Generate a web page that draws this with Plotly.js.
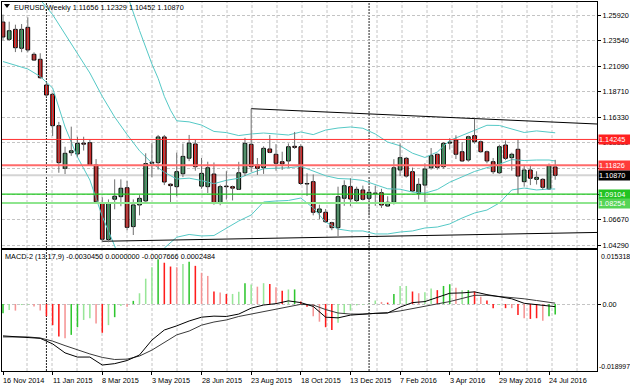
<!DOCTYPE html>
<html><head><meta charset="utf-8">
<script src="https://cdn.plot.ly/plotly-3.0.1.min.js"></script>
<style>html,body{margin:0;padding:0;background:#fff;}#chart{width:630px;height:388px;}</style>
</head><body><div id="chart"></div>
<script>
// ---- weekly EURUSD candles (bar 0 = 16 Nov 2014) ----
const opens = [1.2530,1.2367,1.2461,1.2283,1.2480,1.2226,1.2179,1.1937,1.1850,1.1554,
1.1153,1.1300,1.1288,1.1390,1.1394,1.1184,1.0829,1.0482,1.0862,1.0886,
1.0970,1.0604,1.0808,1.0846,1.1210,1.1206,1.1448,1.1003,1.0980,1.1102,
1.1248,1.1382,1.0985,1.0980,1.1099,1.0829,1.0985,1.0980,1.0955,1.1111,
1.1379,1.1184,1.1159,1.1335,1.1285,1.1215,1.1222,1.1360,1.1356,1.1010,
1.1027,1.0739,1.0739,1.0641,1.0594,1.0871,1.0980,1.0849,1.0949,1.0870,
1.0920,1.0923,1.0798,1.0833,1.1137,1.1247,1.1121,1.0918,1.0995,1.1158,
1.1285,1.1168,1.1390,1.1419,1.1309,1.1231,1.1460,1.1403,1.1309,1.1215,
1.1111,1.1372,1.1253,1.1332,1.1027,1.1137,1.1049,1.1049,1.0958,1.11656];
const highs = [1.2600,1.2533,1.2505,1.2511,1.2574,1.2245,1.2236,1.1968,1.1862,1.1590,
1.1356,1.1545,1.1450,1.1450,1.1420,1.1240,1.0880,1.0860,1.1049,1.1049,
1.1033,1.0860,1.0900,1.1294,1.1390,1.1467,1.1467,1.1012,1.1300,1.1385,
1.1467,1.1420,1.1250,1.1215,1.1208,1.0998,1.1126,1.0990,1.1214,1.1440,
1.1714,1.1250,1.1360,1.1466,1.1380,1.1309,1.1387,1.1495,1.1380,1.1106,
1.1095,1.0810,1.0770,1.0650,1.0980,1.1040,1.1059,1.0980,1.0990,1.0970,
1.0990,1.0960,1.0890,1.1239,1.1388,1.1260,1.1160,1.1060,1.1200,1.1344,
1.1290,1.1400,1.1436,1.1464,1.1400,1.1460,1.1620,1.1415,1.1320,1.1250,
1.1375,1.1415,1.1300,1.1426,1.1186,1.1185,1.1125,1.1060,1.1198,1.12329];
const lows = [1.2358,1.2354,1.2247,1.2246,1.2245,1.2163,1.1996,1.1825,1.1457,1.1111,
1.1099,1.1270,1.1262,1.1320,1.1175,1.0836,1.0463,1.0457,1.0767,1.0796,
1.0570,1.0525,1.0710,1.0820,1.1070,1.1140,1.0995,1.0823,1.0890,1.1070,
1.1220,1.1130,1.0960,1.0920,1.0810,1.0805,1.0858,1.0850,1.0950,1.1080,
1.1120,1.1090,1.1100,1.1295,1.1130,1.1137,1.1160,1.1335,1.0995,1.0892,
1.0710,1.0675,1.0640,1.0570,1.0515,1.0800,1.0796,1.0833,1.0850,1.0710,
1.0800,1.0780,1.0790,1.0811,1.1080,1.1065,1.0930,1.0860,1.0823,1.1140,
1.1140,1.1150,1.1330,1.1240,1.1215,1.1215,1.1385,1.1300,1.1200,1.1100,
1.1100,1.1230,1.1130,1.0911,1.0980,1.0995,1.1000,1.0952,1.0950,1.10452];
const closes = [1.2389,1.2448,1.2288,1.2461,1.2267,1.2172,1.2006,1.1843,1.1554,1.1206,
1.1294,1.1318,1.1388,1.1380,1.1184,1.0838,1.0485,1.0829,1.0890,1.0965,
1.0597,1.0808,1.0870,1.1197,1.1200,1.1448,1.1024,1.0990,1.1121,1.1265,
1.1390,1.1168,1.1105,1.1158,1.0829,1.0980,1.0980,1.0966,1.1111,1.1388,
1.1168,1.1153,1.1341,1.1303,1.1200,1.1195,1.1356,1.1350,1.1010,1.1005,
1.0739,1.0770,1.0650,1.0594,1.0886,1.0989,1.0864,1.0955,1.0861,1.0927,
1.0914,1.0807,1.0833,1.1158,1.1253,1.1080,1.0939,1.1002,1.1146,1.1272,
1.1162,1.1388,1.1400,1.1285,1.1222,1.1450,1.1403,1.1309,1.1222,1.1121,
1.1356,1.1247,1.1285,1.1080,1.1137,1.1059,1.1068,1.0974,1.1177,1.10870];

// ---- Bollinger bands ----
const bandBars = [0,2,4,6,8,10,12,14,16,18,20,22,24,26,28,30,32,34,36,38,40,42,44,46,48,50,52,54,56,58,60,62,64,66,68,70,72,74,76,78,80,82,84,86,88,89];
const bbMiddle = [1.3000,1.2930,1.2840,1.2740,1.2600,1.2420,1.2235,1.2050,1.1830,1.1635,1.1471,1.1318,1.1202,1.1116,1.1052,1.1060,1.1038,1.1008,1.1040,1.1059,1.1108,1.1149,1.1154,1.1158,1.1171,1.1125,1.1083,1.1057,1.1052,1.1039,1.1003,1.0960,1.0956,1.0929,1.0919,1.0953,1.1022,1.1073,1.1123,1.1159,1.1191,1.1235,1.1226,1.1231,1.1231,1.1222];
const bbLower = [1.2158,1.2125,1.2088,1.2017,1.1909,1.1542,1.1259,1.1043,1.0700,1.0422,1.0063,1.0186,1.0269,1.0402,1.0504,1.0530,1.0516,1.0520,1.0591,1.0657,1.0713,1.0836,1.0845,1.0850,1.0873,1.0780,1.0647,1.0581,1.0563,1.0563,1.0535,1.0535,1.0553,1.0563,1.0591,1.0600,1.0629,1.0685,1.0732,1.0760,1.0826,1.0949,1.0967,1.0949,1.0958,1.0958];
const upperBars = [20,22,24,25,26,27,28,30,32,34,36,38,40,42,44,46,48,50,52,54,56,58,60,62,64,66,68,70,72,74,76,78,80,82,84,86,88,89];
const bbUpper = [1.2790,1.2450,1.2135,1.2000,1.1830,1.1700,1.1600,1.1590,1.1560,1.1500,1.1489,1.1461,1.1476,1.1485,1.1476,1.1466,1.1495,1.1470,1.1513,1.1532,1.1542,1.1530,1.1476,1.1400,1.1365,1.1295,1.1255,1.1306,1.1415,1.1461,1.1514,1.1558,1.1556,1.1521,1.1490,1.1505,1.1495,1.1487];

// ---- trend lines & levels ----
const trendTopX = [40, 95.74], trendTopY = [1.1714, 1.1570];
const trendBotX = [16, 95.74], trendBotY = [1.0466, 1.0549];
const levelPrices = [1.14245, 1.11826, 1.09104, 1.08254];
const levelLabels = ['1.14245', '1.11826', '1.09104', '1.08254'];
const bidPrice = 1.10870, bidLabel = '1.10870';
const separatorBars = [7, 59];

// ---- MACD-2 (13,17,9) ----
const macdHist = [-0.0027,-0.0017,-0.0019,-0.0003,-0.0002,-0.0007,-0.0019,-0.0035,-0.0061,-0.0094,
-0.0099,-0.0089,-0.0067,-0.0046,-0.0041,-0.0056,-0.0083,-0.0061,-0.0038,-0.0006,
-0.0008,0.0009,0.0031,0.0073,0.0106,0.0129,0.0119,0.0108,0.0106,0.0115,
0.0122,0.0110,0.0090,0.0081,0.0036,0.0033,0.0029,0.0029,0.0035,0.0060,
0.0056,0.0050,0.0060,0.0058,0.0048,0.0038,0.0042,0.0042,0.0007,-0.0008,
-0.0035,-0.0051,-0.0067,-0.0075,-0.0054,-0.0029,-0.0019,-0.0004,-0.0002,0.0001,
0.0010,0.0006,0.0004,0.0029,0.0052,0.0052,0.0036,0.0031,0.0034,0.0045,
0.0040,0.0052,0.0057,0.0047,0.0040,0.0040,0.0036,0.0021,0.0010,-0.0012,
-0.0003,-0.0012,-0.0012,-0.0032,-0.0041,-0.0043,-0.0041,-0.0048,-0.0035,-0.0030];
const histKind = ['g','lg','lr','lg','lg','lr','lr','r','r','r',
'lr','g','g','lg','lg','lr','r','lg','g','lg',
'lr','g','lg','lg','lg','g','r','r','lr','lg',
'g','r','lr','lr','r','lr','r','lg','lg','g',
'lg','lr','lg','r','lr','r','lg','g','r','r',
'lr','lr','r','r','lg','lg','lg','lg','lg','g',
'lg','lr','r','g','lg','lg','r','lr','lg','lg',
'r','g','g','lr','lg','g','r','lr','r','r',
'lg','r','lr','r','lr','r','r','lr','g','g'];
const macdLine = [-0.0092,-0.0094,-0.0095,-0.0099,-0.0115,-0.0141,-0.0153,-0.0153,-0.0176,-0.0172,-0.0163,-0.0147,-0.0104,-0.0075,-0.0063,-0.0049,-0.0038,-0.0035,-0.0036,-0.0029,-0.0012,-0.0003,0.0001,0.0009,0.0004,-0.0007,-0.0038,-0.0040,-0.0032,-0.0029,-0.0027,-0.0026,-0.0009,0.0004,0.0007,0.0019,0.0031,0.0032,0.0035,0.0027,0.0020,0.0015,0.0002,-0.0002,-0.0006,-0.00077];
const signalLine = [-0.0095,-0.0095,-0.0095,-0.0098,-0.0107,-0.0120,-0.0133,-0.0144,-0.0154,-0.0160,-0.0159,-0.0150,-0.0133,-0.0110,-0.0089,-0.0078,-0.0061,-0.0052,-0.0046,-0.0036,-0.0029,-0.0020,-0.0014,-0.0007,-0.0001,-0.0003,-0.0016,-0.0026,-0.0029,-0.0029,-0.0027,-0.0025,-0.0020,-0.0013,-0.0007,-0.0001,0.0007,0.0016,0.0025,0.0025,0.0022,0.0019,0.0015,0.0010,0.0005,0.00025];

// ---- axis labels ----
const dateBars = [0,8,16,24,32,40,48,56,64,72,80,88];
const dateLabels = ['16 Nov 2014','11 Jan 2015','8 Mar 2015','3 May 2015','28 Jun 2015','23 Aug 2015','18 Oct 2015','13 Dec 2015','7 Feb 2016','3 Apr 2016','29 May 2016','24 Jul 2016'];
const priceTickVals = [1.25961,1.23541,1.21131,1.18730,1.16330,1.13920,1.11510,1.09110,1.06700,1.04290];
const priceTickText = ['1.25920','1.23540','1.21090','1.18710','1.16330','1.13880','','','1.06670','1.04290'];
const titleText = 'EURUSD,Weekly 1.11656 1.12329 1.10452 1.10870';
const macdText = 'MACD-2 (13,17,9) -0.0030450 0.0000000 -0.0007666 0.0002484';
const macdTopLabel = '0.015318', macdZeroLabel = '0.00', macdBottomLabel = '-0.018997';

// ---------------- build ----------------
const W = 630, H = 388;
const px = v => v / W, py = v => (H - v) / H;
const FONT = 'Liberation Sans, Arial, sans-serif';
const FS = 7.3;
const bars = opens.map((_, i) => i);
const GREEN = '#3cae68', RED = '#ff1010';

const wickX = [], wickY = [];
bars.forEach(i => { wickX.push(i, i, null); wickY.push(lows[i], highs[i], null); });

const traces = [];
traces.push({x: upperBars, y: bbUpper, type: 'scatter', mode: 'lines', line: {color: '#55c9c6', width: 1}, xaxis: 'x', yaxis: 'y'});
traces.push({x: bandBars, y: bbMiddle, type: 'scatter', mode: 'lines', line: {color: '#55c9c6', width: 1}, xaxis: 'x', yaxis: 'y'});
traces.push({x: bandBars, y: bbLower, type: 'scatter', mode: 'lines', line: {color: '#55c9c6', width: 1}, xaxis: 'x', yaxis: 'y'});
traces.push({x: trendTopX, y: trendTopY, type: 'scatter', mode: 'lines', line: {color: '#000', width: 1}, xaxis: 'x', yaxis: 'y'});
traces.push({x: trendBotX, y: trendBotY, type: 'scatter', mode: 'lines', line: {color: '#000', width: 1}, xaxis: 'x', yaxis: 'y'});
traces.push({x: wickX, y: wickY, type: 'scatter', mode: 'lines', line: {color: '#6e6e6e', width: 1}, xaxis: 'x', yaxis: 'y'});
traces.push({
  x: bars, base: bars.map(i => Math.min(opens[i], closes[i])),
  y: bars.map(i => Math.abs(closes[i] - opens[i])),
  type: 'bar', width: 0.6, xaxis: 'x', yaxis: 'y',
  marker: {color: bars.map(i => closes[i] >= opens[i] ? GREEN : RED), line: {color: '#000', width: 1}}
});
const histColor = {g: '#2fc62f', lg: '#98e698', r: '#ff1c1c', lr: '#f59595'};
traces.push({x: bars, y: macdHist, type: 'bar', width: 0.25, xaxis: 'x2', yaxis: 'y2',
  marker: {color: histKind.map(k => histColor[k]), line: {width: 0}}});
traces.push({x: bandBars, y: signalLine, type: 'scatter', mode: 'lines', line: {color: '#3a3a3a', width: 1}, xaxis: 'x2', yaxis: 'y2'});
traces.push({x: bandBars, y: macdLine, type: 'scatter', mode: 'lines', line: {color: '#000', width: 1}, xaxis: 'x2', yaxis: 'y2'});

const shapes = [];
for (let gx = 27; gx <= 577; gx += 25) {
  shapes.push({type: 'line', xref: 'paper', yref: 'paper', x0: px(gx), x1: px(gx), y0: py(248), y1: py(2), layer: 'below', line: {color: '#c4c4c4', width: 1, dash: '3px,2px'}});
  shapes.push({type: 'line', xref: 'paper', yref: 'paper', x0: px(gx), x1: px(gx), y0: py(371), y1: py(250), layer: 'below', line: {color: '#c4c4c4', width: 1, dash: '3px,2px'}});
}
separatorBars.forEach(b => shapes.push({type: 'line', xref: 'x', yref: 'paper', x0: b, x1: b, y0: py(371), y1: py(2), layer: 'below', line: {color: '#222', width: 1, dash: '2px,1px'}}));
const levelStyle = [
  {color: '#ff3030', width: 1},
  {color: '#ff6a6a', width: 2},
  {color: '#22c822', width: 1.3},
  {color: '#8ee58e', width: 2}
];
shapes.push({type: 'line', xref: 'paper', yref: 'y', x0: px(2), x1: px(597), y0: bidPrice, y1: bidPrice, layer: 'below', line: {color: '#d4d4d4', width: 2}});
levelPrices.forEach((p, k) => shapes.push({type: 'line', xref: 'paper', yref: 'y', x0: px(2), x1: px(597), y0: p, y1: p, layer: 'above', line: levelStyle[k]}));
shapes.push({type: 'path', xref: 'paper', yref: 'paper',
  path: `M ${px(4)} ${py(4)} L ${px(10)} ${py(4)} L ${px(7)} ${py(8)} Z`, fillcolor: '#000', line: {width: 0}});

const ann = [];
ann.push({text: titleText, xref: 'paper', yref: 'paper', x: px(13), y: py(7), xanchor: 'left', yanchor: 'middle', showarrow: false, borderpad: 0, font: {family: FONT, size: FS, color: '#000'}});
ann.push({text: macdText, xref: 'paper', yref: 'paper', x: px(4), y: py(256.5), xanchor: 'left', yanchor: 'middle', showarrow: false, borderpad: 0, font: {family: FONT, size: FS, color: '#000'}});
ann.push({text: macdTopLabel, xref: 'paper', yref: 'paper', x: px(600), y: py(256), xanchor: 'left', yanchor: 'middle', showarrow: false, borderpad: 0, font: {family: FONT, size: 7, color: '#000'}});
ann.push({text: macdBottomLabel, xref: 'paper', yref: 'paper', x: px(598), y: py(366.5), xanchor: 'left', yanchor: 'middle', showarrow: false, borderpad: 0, font: {family: FONT, size: 6.9, color: '#000'}});
dateBars.forEach((b, k) => ann.push({text: dateLabels[k], xref: 'x', yref: 'paper', x: b, xshift: -1, y: py(380), xanchor: 'left', yanchor: 'middle', showarrow: false, borderpad: 0, font: {family: FONT, size: FS, color: '#000'}}));
const boxColors = ['#ff2020', '#ff3a3a', '#22c322', '#55d455'];
const boxOf = (p, label, bg) => ({text: label, xref: 'paper', yref: 'y', x: px(598), y: p, xanchor: 'left', yanchor: 'middle', showarrow: false,
  bgcolor: bg, borderpad: 0, width: 32, height: 8.5, align: 'left', font: {family: FONT, size: FS, color: '#fff'}});
levelPrices.forEach((p, k) => ann.push(boxOf(p, levelLabels[k], boxColors[k])));
ann.push(boxOf(bidPrice, bidLabel, '#000'));

const layout = {
  width: W, height: H, margin: {l: 0, r: 0, t: 0, b: 0}, paper_bgcolor: '#fff', plot_bgcolor: '#fff',
  showlegend: false, barmode: 'overlay', font: {family: FONT, size: FS, color: '#000'},
  xaxis: {domain: [px(2), px(597)], range: [-0.1612, 95.737], anchor: 'y', showgrid: false, zeroline: false,
    showticklabels: false, ticks: '', showline: true, mirror: true, linecolor: '#000', linewidth: 1},
  yaxis: {domain: [py(248), py(2)], range: [1.04026, 1.27185], anchor: 'x', side: 'right',
    tickmode: 'array', tickvals: priceTickVals, ticktext: priceTickText, ticks: 'outside', ticklen: 3, tickcolor: '#000',
    showgrid: true, gridcolor: '#c4c4c4', griddash: '3px,2px', zeroline: false,
    showline: true, mirror: true, linecolor: '#000', linewidth: 1, tickfont: {family: FONT, size: FS, color: '#000'}},
  xaxis2: {domain: [px(2), px(597)], range: [-0.1612, 95.737], anchor: 'y2', matches: 'x', showgrid: false, zeroline: false,
    tickmode: 'array', tickvals: dateBars, showticklabels: false, ticks: 'outside', ticklen: 3, tickcolor: '#000',
    showline: true, mirror: true, linecolor: '#000', linewidth: 1},
  yaxis2: {domain: [py(371), py(250)], range: [-0.01932, 0.01557], anchor: 'x2', side: 'right',
    tickmode: 'array', tickvals: [0], ticktext: [macdZeroLabel], ticks: 'outside', ticklen: 3, tickcolor: '#000',
    showgrid: true, gridcolor: '#c4c4c4', griddash: '3px,2px', zeroline: false,
    showline: true, mirror: true, linecolor: '#000', linewidth: 1, tickfont: {family: FONT, size: FS, color: '#000'}},
  shapes: shapes, annotations: ann
};
Plotly.newPlot('chart', traces, layout, {staticPlot: true, displayModeBar: false});
</script></body></html>
